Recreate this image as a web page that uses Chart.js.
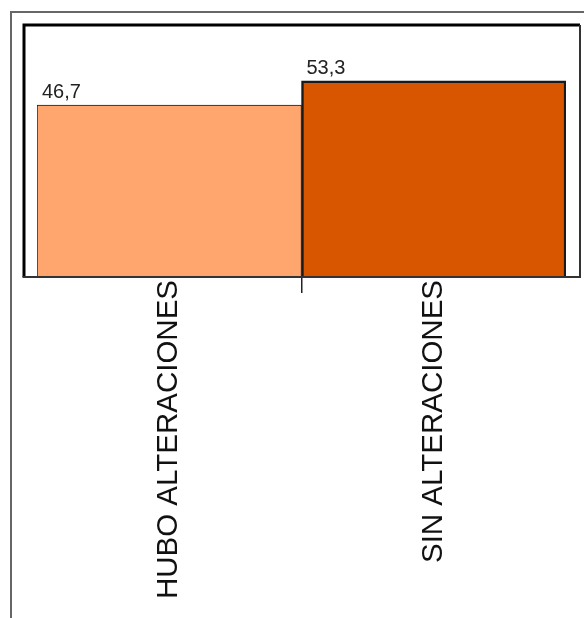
<!DOCTYPE html>
<html>
<head>
<meta charset="utf-8">
<script src="https://cdn.jsdelivr.net/npm/chart.js@4/dist/chart.umd.min.js"></script>
<style>
  body { margin: 0; background: #fff; }
  #wrap { width: 584px; height: 618px; position: relative; }
</style>
</head>
<body>
<div id="wrap"><canvas id="barChart"></canvas></div>
<script>
const categories = ['HUBO ALTERACIONES', 'SIN ALTERACIONES'];
const values = [46.7, 53.3];
const valueLabels = ['46,7', '53,3'];
const barColors = ['#FFA66E', '#D95600'];

// frame around the whole picture and the plot box
const framePlugin = {
    id: 'frames',
    beforeDraw(chart) {
        const c = chart.ctx;
        c.save();
        c.fillStyle = '#fff';
        c.fillRect(0, 0, chart.width, chart.height);
        c.strokeStyle = '#666';
        c.lineWidth = 2;
        c.strokeRect(11, 12, 700, 700);
        c.restore();
    },
    afterDraw(chart) {
        const c = chart.ctx;
        const top = chart.chartArea.top, bottom = chart.chartArea.bottom;
        c.save();
        c.strokeStyle = '#000';
        c.lineWidth = 3;
        c.beginPath();
        c.moveTo(24, bottom);
        c.lineTo(24, top);
        c.lineTo(580, top);
        c.stroke();
        c.strokeStyle = '#333';
        c.lineWidth = 2;
        c.beginPath();
        c.moveTo(580, top);
        c.lineTo(580, bottom);
        c.lineTo(22.5, bottom);
        c.stroke();
        c.restore();
    }
};

const valuePlugin = {
    id: 'values',
    afterDatasetsDraw(chart) {
        const c = chart.ctx;
        const meta = chart.getDatasetMeta(0);
        c.save();
        c.font = '20px "Liberation Sans", Arial, sans-serif';
        c.fillStyle = '#222';
        c.textAlign = 'left';
        c.textBaseline = 'alphabetic';
        meta.data.forEach((bar, i) => {
            c.fillText(valueLabels[i], bar.x - bar.width / 2 + 5, bar.y - 7);
        });
        c.restore();
    }
};

const data = {
    labels: categories,
    datasets: [{
        data: values,
        backgroundColor: barColors,
        borderColor: '#1a1a1a',
        borderWidth: [1, 2.5],
        barPercentage: 1,
        categoryPercentage: 1
    }]
};

const config = {
    type: 'bar',
    data: data,
    options: {
        responsive: true,
        maintainAspectRatio: false,
        animation: false,
        layout: {
            padding: { left: 37, right: 18, top: 25, bottom: 0 }
        },
        scales: {
            x: {
                offset: true,
                border: { display: false },
                grid: {
                    drawOnChartArea: false,
                    tickLength: 16,
                    lineWidth: 1.5,
                    color: ctx => ctx.index === 1 ? '#222' : 'rgba(0,0,0,0)'
                },
                ticks: {
                    autoSkip: false,
                    minRotation: 90,
                    maxRotation: 90,
                    padding: -13,
                    color: '#111',
                    font: { family: '"Liberation Sans", Arial, sans-serif', size: 29.5 }
                },
                afterFit(scale) {
                    scale.height = 341;
                }
            },
            y: {
                display: false,
                min: 0,
                max: 68.5
            }
        },
        plugins: {
            legend: { display: false },
            tooltip: { enabled: false }
        }
    },
    plugins: [framePlugin, valuePlugin]
};

const myChart = new Chart(document.getElementById('barChart'), config);
</script>
</body>
</html>
